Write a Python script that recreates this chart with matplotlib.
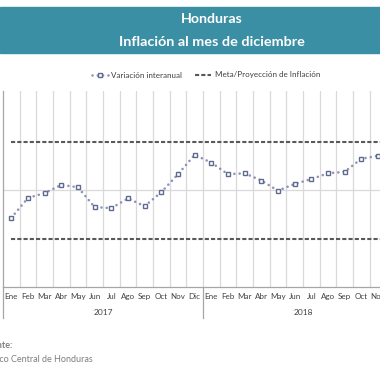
import numpy as np
import matplotlib
matplotlib.use("Agg")
import matplotlib.pyplot as plt
from matplotlib.lines import Line2D

plt.rcParams['font.family'] = ['Lato', 'DejaVu Sans']

meses = ["Ene", "Feb", "Mar", "Abr", "May", "Jun", "Jul", "Ago", "Sep", "Oct", "Nov", "Dic"]
anios = ["2017", "2018"]
# variacion interanual (%), Ene 2017 - Nov 2018
inflacion = [3.43, 3.84, 3.94, 4.11, 4.06, 3.65, 3.63, 3.83, 3.67, 3.96, 4.33, 4.73,
             4.57, 4.33, 4.35, 4.20, 3.99, 4.13, 4.23, 4.35, 4.38, 4.65, 4.71]
meta_sup = [5.0] * 24
meta_inf = [3.0] * 24

W = 380
fig = plt.figure(figsize=(3.8, 3.8), dpi=100)

# banda del titulo
fig.patches.append(plt.Rectangle((0, 1 - 53 / W), 1, 46 / W, transform=fig.transFigure,
                                 color='#3b8fa4', zorder=0))
fig.text(212 / W, 1 - 19 / W, "Honduras", ha='center', va='center', color='white',
         fontsize=10.2, fontweight='bold')
fig.text(212 / W, 1 - 42 / W, "Inflación al mes de diciembre", ha='center', va='center',
         color='white', fontsize=10.4, fontweight='bold')

ax = fig.add_axes([3 / W, 93 / W, 400 / W, 196 / W])
n = len(meses) * len(anios)
xs = np.arange(n)

estilo_serie = dict(color='#9092b6', lw=1.9, linestyle=(0, (0.01, 2.0)), dash_capstyle='round',
                    marker='s', ms=3.4, mfc='white', mec='#5d6b8e', mew=1.0)

ax.plot(xs, meta_sup, color='#595959', lw=1.5, linestyle=(0, (2, 1)), zorder=2)
ax.plot(xs, meta_inf, color='#595959', lw=1.5, linestyle=(0, (2, 1)), zorder=2)
ax.plot(xs[:len(inflacion)], inflacion, zorder=3, **estilo_serie)

ax.set_xlim(-0.5, n - 0.5)
ax.set_ylim(2, 6.05)
for b in np.arange(0.5, n, 1):
    ax.axvline(b, color='#d9d9d9', lw=0.9, zorder=1)
ax.axhline(4, color='#d9d9d9', lw=0.9, zorder=1)

for s in ['top', 'right']:
    ax.spines[s].set_visible(False)
ax.spines['left'].set_color('#a6a6a6')
ax.spines['left'].set_linewidth(0.9)
ax.spines['bottom'].set_color('#a6a6a6')
ax.spines['bottom'].set_linewidth(0.9)
ax.set_yticks([])
ax.set_xticks(xs)
ax.set_xticklabels(meses * len(anios), fontsize=5.8, color='#404040')
ax.tick_params(axis='x', length=0, pad=4)

# separadores de grupo y etiquetas de anio
for k in range(len(anios) + 1):
    xb = k * len(meses) - 0.5
    ax.add_line(Line2D([xb, xb], [0.0, -0.16], transform=ax.get_xaxis_transform(),
                       color='#a6a6a6', lw=0.9, clip_on=False))
for k, a in enumerate(anios):
    ax.text(k * len(meses) + 5.5, -0.13, a, transform=ax.get_xaxis_transform(),
            ha='center', va='center', fontsize=6, color='#404040')

handles = [Line2D([], [], **estilo_serie),
           Line2D([], [], color='#595959', lw=1.5, linestyle=(0, (2, 1)))]
fig.legend(handles, ["Variación interanual", "Meta/Proyección de Inflación"],
           loc='center', bbox_to_anchor=(206 / W, 1 - 75 / W), ncol=2, frameon=False,
           fontsize=5.8, handlelength=2.0, columnspacing=1.6, handletextpad=0.4,
           labelcolor='#404040')

fig.text(13 / W, 1 - 345 / W, "Fuente:", ha='right', va='center', fontsize=6.5,
         color='#7f7f7f', fontweight='bold')
fig.text(93 / W, 1 - 359 / W, "Banco Central de Honduras", ha='right', va='center',
         fontsize=6.5, color='#7f7f7f')

fig.savefig("out.png", dpi=100)
